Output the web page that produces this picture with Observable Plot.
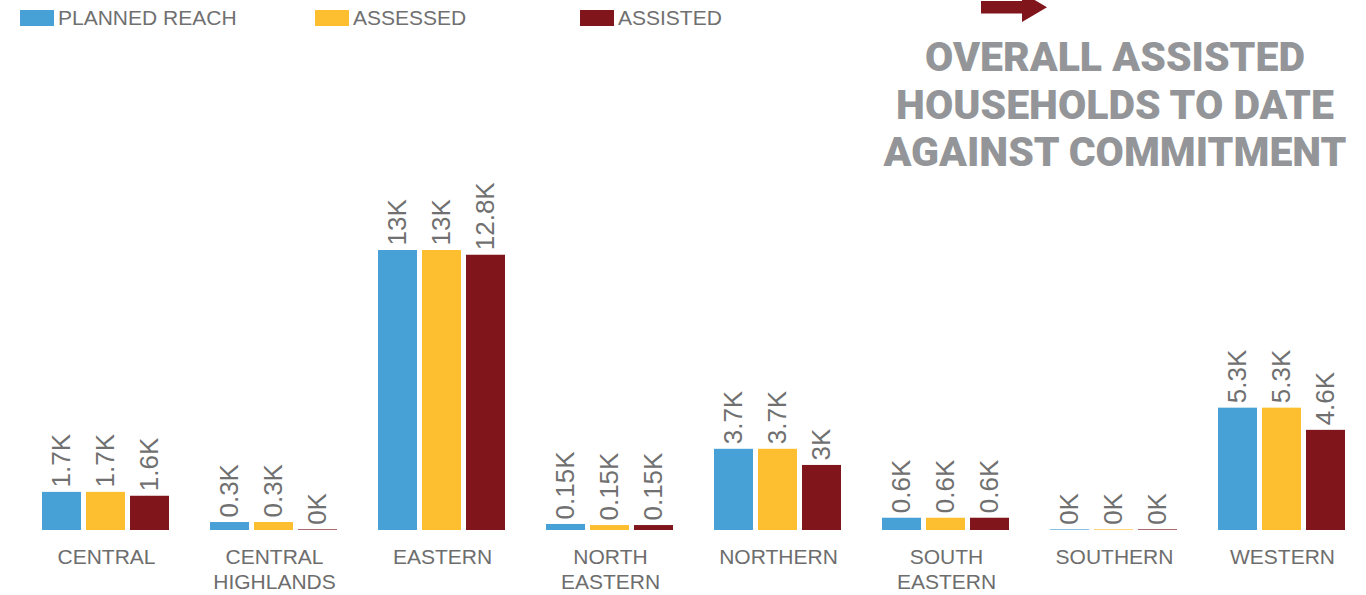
<!DOCTYPE html>
<html>
<head>
<meta charset="utf-8">
<script src="https://cdn.jsdelivr.net/npm/d3@7"></script>
<script src="https://cdn.jsdelivr.net/npm/@observablehq/plot@0.6"></script>
<style>
  html, body { margin: 0; padding: 0; background: #fff; overflow: hidden; }
  #wrap { position: relative; width: 1366px; height: 595px; }
  #chart { position: absolute; left: 0; top: 0; }
  .legend-item { position: absolute; top: 0; height: 36px; display: flex; align-items: center; font-family: "Liberation Sans", Arial, sans-serif; font-size: 21px; color: #707070; }
  .sw { display: inline-block; width: 34px; height: 16px; margin-right: 4px; }
  #title { position: absolute; left: 865px; width: 500px; top: 34px; text-align: center; font-family: Roboto, "Liberation Sans", sans-serif; font-weight: 900; font-size: 41px; line-height: 47.5px; color: #939598; }
  #arrow { position: absolute; left: 0; top: 0; }
</style>
</head>
<body>
<div id="wrap">
  <div id="chart"></div>
  <div id="legend"></div>
  <svg id="arrow" width="1366" height="30"><polygon points="981,1 1022,1 1022,-7.5 1047,7.3 1022,22 1022,13.5 981,13.5" fill="#80161C"/></svg>
  <div id="title">OVERALL ASSISTED<br>HOUSEHOLDS TO DATE<br>AGAINST COMMITMENT</div>
</div>
<script>
// ---- data ----
const regions = ["CENTRAL", "CENTRAL HIGHLANDS", "EASTERN", "NORTH EASTERN", "NORTHERN", "SOUTH EASTERN", "SOUTHERN", "WESTERN"];
const regionTickLabels = ["CENTRAL", "CENTRAL\nHIGHLANDS", "EASTERN", "NORTH\nEASTERN", "NORTHERN", "SOUTH\nEASTERN", "SOUTHERN", "WESTERN"];
const seriesNames = ["PLANNED REACH", "ASSESSED", "ASSISTED"];
const seriesColors = ["#47A0D6", "#FDBF2F", "#80161C"];
// values in thousands of households
const plannedReach = [1.77, 0.37, 13.0, 0.28, 3.77, 0.57, 0.03, 5.68];
const assessed     = [1.77, 0.37, 13.0, 0.23, 3.77, 0.57, 0.03, 5.68];
const assisted     = [1.59, 0.03, 12.78, 0.23, 3.02, 0.57, 0.03, 4.65];
// data labels as printed on the chart
const plannedLabels  = ["1.7K", "0.3K", "13K", "0.15K", "3.7K", "0.6K", "0K", "5.3K"];
const assessedLabels = ["1.7K", "0.3K", "13K", "0.15K", "3.7K", "0.6K", "0K", "5.3K"];
const assistedLabels = ["1.6K", "0K", "12.8K", "0.15K", "3K", "0.6K", "0K", "4.6K"];

const valueSets = [plannedReach, assessed, assisted];
const labelSets = [plannedLabels, assessedLabels, assistedLabels];
const data = regions.flatMap((r, i) => seriesNames.map((s, j) => ({
  region: r, series: s, value: valueSets[j][i], label: labelSets[j][i]
})));

// legend
const legendX = [20, 315, 580];
const legend = document.getElementById("legend");
seriesNames.forEach((s, j) => {
  const d = document.createElement("div");
  d.className = "legend-item";
  d.style.left = legendX[j] + "px";
  d.innerHTML = `<span class="sw" style="background:${seriesColors[j]}"></span><span>${s}</span>`;
  legend.appendChild(d);
});

const chart = Plot.plot({
  width: 1366,
  height: 595,
  marginLeft: 40,
  marginRight: 18,
  marginTop: 250,
  marginBottom: 65,
  style: { fontFamily: "'Liberation Sans', Arial, sans-serif", background: "transparent", overflow: "visible" },
  fx: { domain: regions, paddingInner: 0.228, paddingOuter: 0, label: null },
  x: { domain: seriesNames, paddingInner: 0.11, paddingOuter: 0, axis: null },
  y: { domain: [0, 13], axis: null },
  color: { domain: seriesNames, range: seriesColors },
  marks: [
    Plot.barY(data, { fx: "region", x: "series", y: "value", fill: "series" }),
    Plot.text(data, {
      fx: "region", x: "series", y: "value", text: "label",
      rotate: -90, textAnchor: "start", lineAnchor: "middle", dy: -5,
      fontSize: 26, fill: "#707070", fontFamily: "'Liberation Sans', Arial, sans-serif"
    }),
    Plot.axisFx({
      anchor: "bottom", tickSize: 0, tickPadding: 16, fontSize: 21, lineHeight: 1.19, fill: "#6d6d6d",
      tickFormat: d => regionTickLabels[regions.indexOf(d)], label: null
    })
  ]
});
document.getElementById("chart").appendChild(chart);
</script>
</body>
</html>
